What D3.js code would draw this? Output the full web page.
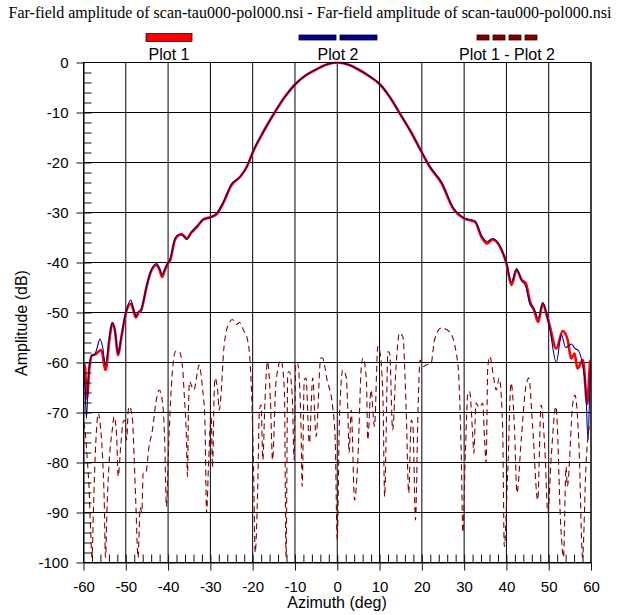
<!DOCTYPE html>
<html>
<head>
<meta charset="utf-8">
<script src="https://cdn.jsdelivr.net/npm/d3@7/dist/d3.min.js"></script>
<style>
    body { margin: 0; background: #fff; }
    svg { display: block; }
</style>
</head>
<body>
<svg id="chart" width="618" height="615"></svg>
<script>
const chartTitle = 'Far-field amplitude of scan-tau000-pol000.nsi - Far-field amplitude of scan-tau000-pol000.nsi'
const seriesNames = ['Plot 1', 'Plot 2', 'Plot 1 - Plot 2']
const xTitle = 'Azimuth (deg)'
const yTitle = 'Amplitude (dB)'
const xTicks = [-60, -50, -40, -30, -20, -10, 0, 10, 20, 30, 40, 50, 60]
const yTicks = [0, -10, -20, -30, -40, -50, -60, -70, -80, -90, -100]

// [azimuth deg, amplitude dB]
const plot1 = [
    [-60, -60.5], [-59.7, -60.5], [-59.2, -67.2], [-58.6, -61], [-58.0, -58.6], [-57.2, -58.4],
    [-56.4, -57.8], [-55.8, -57.5], [-54.8, -61.5], [-53.8, -54.9], [-53.2, -52.1], [-52.6, -53.5],
    [-51.8, -58.5], [-51.1, -55.2], [-50.0, -50.2], [-48.8, -48.2], [-48.2, -49.5], [-47.6, -51.0],
    [-47.0, -50.0], [-46.4, -49.6], [-46.0, -48.5], [-45.1, -44.9], [-43.9, -41.5], [-42.7, -40.5],
    [-42.0, -41.5], [-41.4, -42.9], [-40.8, -41.6], [-40.0, -40.1], [-39.5, -39.5], [-38.4, -35.5],
    [-37.6, -34.6], [-36.8, -34.3], [-36.2, -34.7], [-35.6, -35.2], [-34.5, -34.0], [-33.2, -32.9],
    [-31.7, -31.4], [-29.9, -30.9], [-28.5, -30.3], [-27.0, -28.2], [-25.0, -24.5], [-23.0, -22.9],
    [-21.4, -20.9], [-19.9, -17.8], [-17.5, -13.9], [-14.8, -10.0], [-12.5, -7.0], [-10.0, -4.4],
    [-7.5, -2.6], [-5.0, -1.4], [-2.5, -0.4], [0, 0], [2.5, -0.4], [5.0, -1.4], [7.5, -2.7],
    [10.0, -4.3], [12.5, -7.0], [14.8, -10.2], [17.5, -14.0], [20.0, -18.0], [21.9, -20.9],
    [24.7, -24.2], [27.4, -29.2], [30.0, -31.2], [32.6, -31.9], [34.1, -34.9], [35.5, -36.2],
    [36.7, -35.4], [38.5, -36.9], [40.0, -40.2], [41.2, -44.5], [42.4, -41.5], [43.6, -43.5],
    [44.6, -44.2], [45.6, -47.9], [46.5, -49.5], [47.5, -51.9], [48.6, -48.2], [49.5, -50.4],
    [50.2, -52.5], [51.8, -57.2], [53.3, -53.7], [54.5, -55.5], [55.3, -59.2], [56.1, -58.2],
    [56.8, -61.2], [58.1, -59.5], [59.1, -68.3], [59.8, -59.9], [60, -59.5]
]

const plot2 = [
    [-60, -62], [-59.7, -64], [-59.3, -71.2], [-58.8, -62], [-58.1, -58.6], [-57.3, -58.3],
    [-56.6, -56.5], [-56.1, -55.3], [-55.5, -56.8], [-54.8, -60.5], [-53.8, -54.6], [-53.2, -52.0],
    [-52.6, -53.4], [-51.8, -58.3], [-51.1, -55.0], [-50.0, -50.0], [-48.8, -47.5], [-48.2, -49.2],
    [-47.6, -50.8], [-47.0, -49.8], [-46.4, -49.5], [-46.0, -48.4], [-45.1, -44.8], [-43.9, -41.4],
    [-42.7, -40.2], [-42.0, -41.2], [-41.4, -42.4], [-40.8, -41.4], [-40.0, -40.0], [-39.5, -39.3],
    [-38.4, -35.3], [-37.6, -34.5], [-36.8, -34.5], [-36.2, -34.9], [-35.6, -35.4], [-34.5, -34.0],
    [-33.2, -32.7], [-31.7, -31.4], [-29.9, -31.0], [-28.5, -30.1], [-27.0, -28.0], [-25.0, -24.3],
    [-23.0, -22.9], [-21.4, -20.8], [-19.9, -17.8], [-17.5, -13.9], [-14.8, -10.0], [-12.5, -7.0],
    [-10.0, -4.4], [-7.5, -2.6], [-5.0, -1.4], [-2.5, -0.4], [0, 0], [2.5, -0.4], [5.0, -1.4],
    [7.5, -2.7], [10.0, -4.3], [12.5, -7.0], [14.8, -10.2], [17.5, -14.0], [20.0, -18.0],
    [21.9, -20.8], [24.7, -24.0], [27.4, -29.0], [30.0, -31.1], [32.6, -31.7], [34.1, -34.6],
    [35.5, -35.8], [36.7, -35.2], [38.5, -36.7], [40.0, -40.0], [41.2, -43.9], [42.4, -41.2],
    [43.6, -43.6], [44.6, -44.8], [45.6, -48.4], [46.5, -49.2], [47.5, -51.2], [48.6, -48.0],
    [49.5, -50.4], [50.3, -53.5], [51.8, -60.0], [53.0, -54.4], [54.0, -57.0], [55.4, -56.3],
    [56.2, -57.2], [57.0, -57.6], [58.0, -60.5], [58.8, -66], [59.3, -75.5], [59.8, -63], [60, -60]
]

const plotDiff = [
    [-60, -72], [-59.6, -73.8], [-59.1, -79.5], [-58.7, -84.8], [-58.3, -94], [-58.0, -99],
    [-57.6, -88], [-57.2, -78], [-56.8, -72], [-56.5, -70.1], [-56.1, -72], [-55.5, -78.8],
    [-55.1, -87.5], [-54.8, -99], [-54.4, -88], [-53.9, -79.5], [-53.1, -72.8], [-52.8, -70.8],
    [-52.2, -74.1], [-51.8, -82.8], [-51.2, -76.8], [-50.6, -71.8], [-50.2, -71.5], [-49.8, -75.5],
    [-49.4, -69.5], [-49.1, -68.8], [-48.4, -71.5], [-48.0, -79.5], [-47.6, -88.8], [-47.1, -99],
    [-46.6, -89], [-46.2, -90.1], [-45.9, -82.1], [-45.3, -82.1], [-44.5, -76.8], [-43.7, -73.5],
    [-42.9, -68.1], [-42.1, -65.5], [-41.3, -68.1], [-40.8, -75.5], [-40.4, -88.8], [-39.9, -77.5],
    [-39.4, -67.5], [-38.8, -60.1], [-38.2, -57.8], [-37.4, -57.8], [-36.6, -60.8], [-36.2, -66.1],
    [-35.7, -74.1], [-35.4, -82.8], [-35.2, -70.1], [-34.9, -63.8], [-34.4, -64.8], [-33.9, -65.5],
    [-33.1, -62.1], [-32.7, -60.5], [-31.9, -64.8], [-31.3, -71.5], [-30.9, -90.1], [-30.4, -79.5],
    [-29.8, -71], [-29.5, -81], [-29.1, -66], [-28.9, -63.1], [-28.3, -65.5], [-27.9, -69.5],
    [-27.3, -64.1], [-26.9, -58.1], [-26.3, -54.1], [-25.5, -52.0], [-24.8, -51.4], [-23.9, -52.4],
    [-23.1, -52.0], [-22.2, -53.5], [-21.2, -55.5], [-20.6, -60.1], [-20.2, -67.5], [-19.8, -80.8],
    [-19.4, -98], [-18.8, -84.8], [-18.4, -69.5], [-18.0, -68.5], [-17.6, -79.5], [-17.1, -68],
    [-16.5, -59.8], [-15.8, -67.5], [-15.3, -79.5], [-14.5, -64.1], [-13.3, -59.5], [-12.5, -65.5],
    [-12.1, -99], [-11.7, -62.1], [-11.3, -61.8], [-10.6, -67.5], [-10.2, -79.5], [-9.8, -60.1],
    [-9.4, -60.1], [-8.6, -71.5], [-8.3, -84.8], [-7.8, -63.5], [-7.4, -63.1], [-6.6, -76.1],
    [-5.8, -63.1], [-5.0, -74.8], [-3.9, -59.1], [-3.5, -59.1], [-2.4, -63.5], [-1.1, -68.8],
    [-0.5, -75], [0, -95.5], [0.5, -72], [1.3, -61.5], [2.1, -62.8], [2.5, -69.5], [2.8, -78.1],
    [3.3, -69.5], [4.1, -87.5], [4.9, -78.8], [5.7, -60.8], [6.1, -59.1], [6.9, -63.5], [7.2, -75.5],
    [8.0, -65.5], [8.8, -72.8], [9.6, -56.8], [10.0, -57.5], [10.8, -66.8], [11.2, -86.8], [12.0, -57.8],
    [12.4, -58.2], [13.1, -73.5], [13.9, -60.8], [14.7, -54.1], [15.5, -54.8], [16.3, -69.5],
    [16.9, -86.1], [17.5, -71.5], [17.9, -72.8], [18.5, -91.5], [19.1, -69.5], [19.6, -59.5],
    [20.4, -60.8], [21.0, -60.5], [22.2, -60.1], [23.0, -55.5], [24.6, -53.1], [26.5, -53.8],
    [28.5, -60.1], [29.3, -77.5], [29.7, -94], [30.3, -78], [30.9, -66.1], [31.3, -65.8],
    [32.0, -74.1], [32.3, -78.1], [32.8, -68.1], [33.6, -69], [34.4, -68.1], [34.8, -74.8],
    [35.2, -80], [35.6, -60.8], [36.1, -58.8], [36.8, -62], [37.6, -65.5], [38.3, -63.1],
    [39.1, -72.8], [39.5, -96.8], [40.3, -82.1], [41.1, -64.1], [41.9, -72.8], [42.5, -86.1],
    [43.5, -75.5], [44.6, -64.8], [45.3, -63.1], [46.2, -72.8], [47.4, -87.5], [48.2, -68.5],
    [49.1, -77.5], [49.8, -90.1], [50.6, -78.8], [51.7, -68.8], [52.9, -93.5], [53.5, -99],
    [54.1, -80.8], [54.4, -84.8], [55.7, -68.1], [56.2, -66.5], [57.2, -77.5], [58.0, -99],
    [58.8, -80.8], [59.6, -72.8], [60, -72]
]

const sansFont = '"Liberation Sans", Arial, sans-serif'
const serifFont = '"Liberation Serif", "Times New Roman", serif'

const svg = d3.select('#chart')
const plotArea = { left: 83.5, right: 591, top: 62.5, bottom: 562.5 }

const x = d3.scaleLinear()
    .domain([-60, 60])
    .range([plotArea.left, plotArea.right])

const y = d3.scaleLinear()
    .domain([0, -100])
    .range([plotArea.top, plotArea.bottom])

// plain hyphen for negative labels, like the original
const plainNumber = d => String(d)

function drawTitle () {
    svg.append('text')
        .attr('x', 310)
        .attr('y', 18)
        .attr('text-anchor', 'middle')
        .style('font-family', serifFont)
        .style('font-size', '16px')
        .text(chartTitle)
}

function drawLegend () {
    const g = svg.append('g').attr('class', 'legend')

    // plot 1 : one solid bar
    g.append('rect')
        .attr('x', 146).attr('y', 33.5)
        .attr('width', 46).attr('height', 8)
        .attr('fill', '#ff0000')
        .attr('stroke', '#400000')
        .attr('stroke-width', 0.8)

    // plot 2 : two bars
    const blueBars = [299, 340]
    g.selectAll('.leg-blue')
        .data(blueBars)
        .enter()
        .append('rect')
        .attr('class', 'leg-blue')
        .attr('x', d => d).attr('y', 35)
        .attr('width', 37).attr('height', 5)
        .attr('fill', '#000080')
        .attr('stroke', '#000030')
        .attr('stroke-width', 0.8)

    // diff : four short bars
    const diffBars = [477, 493, 509, 525]
    g.selectAll('.leg-diff')
        .data(diffBars)
        .enter()
        .append('rect')
        .attr('class', 'leg-diff')
        .attr('x', d => d).attr('y', 35)
        .attr('width', 12).attr('height', 5)
        .attr('fill', '#800000')
        .attr('stroke', '#300000')
        .attr('stroke-width', 0.8)

    const labelX = [169, 338, 507]
    g.selectAll('.leg-label')
        .data(seriesNames)
        .enter()
        .append('text')
        .attr('class', 'leg-label')
        .attr('x', (d, i) => labelX[i])
        .attr('y', 60)
        .attr('text-anchor', 'middle')
        .style('font-family', sansFont)
        .style('font-size', '16px')
        .text(d => d)
}

function drawGrid () {
    const g = svg.append('g').attr('class', 'grid')

    g.selectAll('.vgrid')
        .data(xTicks)
        .enter()
        .append('line')
        .attr('x1', d => x(d)).attr('x2', d => x(d))
        .attr('y1', plotArea.top).attr('y2', plotArea.bottom)
        .attr('stroke', '#000')
        .attr('stroke-width', 1)

    g.selectAll('.hgrid')
        .data(yTicks)
        .enter()
        .append('line')
        .attr('x1', plotArea.left).attr('x2', plotArea.right)
        .attr('y1', d => y(d)).attr('y2', d => y(d))
        .attr('stroke', '#000')
        .attr('stroke-width', 1)
}

function drawAxes () {
    const yAxis = svg.append('g')
        .attr('transform', `translate(${plotArea.left},0)`)
        .call(d3.axisLeft(y).tickValues(yTicks).tickFormat(plainNumber)
            .tickSize(7).tickSizeOuter(0).tickPadding(8))
    const xAxis = svg.append('g')
        .attr('transform', `translate(0,${plotArea.bottom})`)
        .call(d3.axisBottom(x).tickValues(xTicks).tickFormat(plainNumber)
            .tickSize(8).tickSizeOuter(0).tickPadding(11))

    // minor ticks point into the plot
    const yMinor = svg.append('g')
        .attr('transform', `translate(${plotArea.left},0)`)
        .call(d3.axisRight(y).tickValues(d3.range(-98, 0, 2)).tickSize(8).tickFormat(''))
    const xMinor = svg.append('g')
        .attr('transform', `translate(0,${plotArea.bottom})`)
        .call(d3.axisTop(x).tickValues(d3.range(-58, 60, 2)).tickSize(8).tickFormat(''))

    yMinor.select('.domain').remove()
    xMinor.select('.domain').remove()

    svg.selectAll('.tick line').attr('stroke', '#111')
    ;[yAxis, xAxis].forEach(a => {
        a.selectAll('text')
            .attr('fill', '#000')
            .style('font-family', sansFont)
            .style('font-size', '15px')
        a.select('.domain').attr('stroke', '#000')
    })

    svg.append('rect')
        .attr('x', plotArea.left).attr('y', plotArea.top)
        .attr('width', plotArea.right - plotArea.left)
        .attr('height', plotArea.bottom - plotArea.top)
        .attr('fill', 'none')
        .attr('stroke', '#000')
        .attr('stroke-width', 1)

    svg.append('text')
        .attr('x', 337)
        .attr('y', 608)
        .attr('text-anchor', 'middle')
        .style('font-family', sansFont)
        .style('font-size', '16px')
        .text(xTitle)

    svg.append('text')
        .attr('transform', 'translate(27,323) rotate(-90)')
        .attr('text-anchor', 'middle')
        .style('font-family', sansFont)
        .style('font-size', '16px')
        .text(yTitle)
}

function drawSeries () {
    svg.append('clipPath')
        .attr('id', 'plot-clip')
        .append('rect')
        .attr('x', plotArea.left).attr('y', plotArea.top - 1)
        .attr('width', plotArea.right - plotArea.left)
        .attr('height', plotArea.bottom - plotArea.top + 1)

    const line = d3.line()
        .x(d => x(d[0]))
        .y(d => y(d[1]))
        .curve(d3.curveMonotoneX)

    const g = svg.append('g').attr('clip-path', 'url(#plot-clip)')

    g.append('path')
        .datum(plot1)
        .attr('d', line)
        .attr('fill', 'none')
        .attr('stroke', '#ff0000')
        .attr('stroke-width', 2.6)

    g.append('path')
        .datum(plot2)
        .attr('d', line)
        .attr('fill', 'none')
        .attr('stroke', '#000080')
        .attr('stroke-width', 1.1)

    g.append('path')
        .datum(plotDiff)
        .attr('d', line)
        .attr('fill', 'none')
        .attr('stroke', '#800000')
        .attr('stroke-width', 1.1)
        .attr('stroke-dasharray', '6,4')
}

drawTitle()
drawLegend()
drawGrid()
drawSeries()
drawAxes()
</script>
</body>
</html>
